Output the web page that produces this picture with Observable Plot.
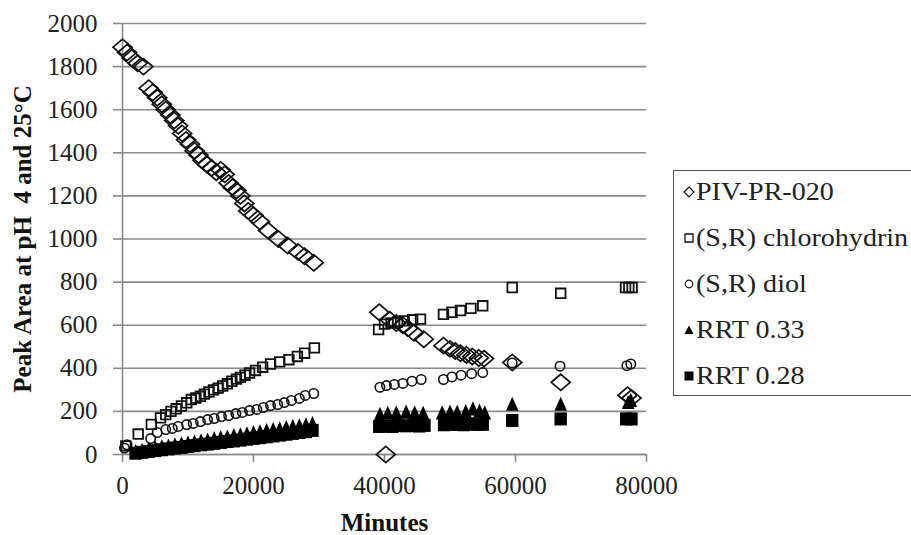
<!DOCTYPE html>
<html>
<head>
<meta charset="utf-8">
<script src="https://cdn.jsdelivr.net/npm/d3@7"></script>
<script src="https://cdn.jsdelivr.net/npm/@observablehq/plot@0.6"></script>
<style>
  html, body { margin: 0; padding: 0; background: #fff; overflow: hidden; }
  #wrap { position: relative; width: 911px; height: 535px; }
  #legend { position: absolute; left: 673px; top: 170px; width: 260px; height: 226px;
    border: 1.5px solid #555; box-sizing: border-box; background: #fff;
    font-family: "Liberation Serif", "DejaVu Serif", "Times New Roman", serif; font-size: 26px; color: #222; }
  .item { position: absolute; left: 0; height: 30px; display: flex; align-items: center; white-space: pre; }
  .item svg { margin-left: 9px; margin-right: 1px; }
  .item span { display: inline-block; transform: scaleX(1.08); transform-origin: left center; }
  svg text { font-family: "Liberation Serif", "DejaVu Serif", "Times New Roman", serif; }
</style>
</head>
<body>
<div id="wrap"></div>
<script>
// ---- data (minutes, peak area) ----
const seriesNames = ["PIV-PR-020", "(S,R) chlorohydrin", "(S,R) diol", "RRT 0.33", "RRT 0.28"];

const pivPR020 = [
  [0,1890],[700,1865],[1400,1840],[2300,1815],[3200,1800],
  [4000,1700],[4600,1680],[5300,1655],[6000,1625],[6600,1600],[7300,1575],[7900,1550],
  [8500,1525],[9100,1490],[9700,1460],[10300,1440],[11000,1410],[11600,1390],[12200,1365],
  [12900,1345],[13600,1330],[14300,1310],[15000,1320],[15600,1300],[16200,1260],[16800,1240],
  [17400,1225],[18000,1200],[18600,1165],[19200,1130],[20000,1110],[21000,1080],[22200,1040],
  [23800,1000],[25200,970],[26800,940],[27800,920],[29200,890],
  [39200,660],[40200,0],[40800,625],[41800,610],[42800,600],[43600,585],[44500,565],[46000,535],
  [49000,505],[50000,490],[50800,480],[51600,470],[52500,462],[53400,455],[54400,448],[55200,445],
  [59500,427],[66900,335],[77100,275],[77700,262]
];

const chlorohydrin = [
  [500,40],[2400,95],[4400,140],[5800,170],[6600,185],[7400,200],[8200,212],[9000,225],
  [9800,240],[10500,255],[11200,262],[11900,270],[12500,280],[13200,290],[13900,300],[14600,308],
  [15300,318],[16000,328],[16700,340],[17400,350],[18000,358],[18700,368],[19400,378],[20300,390],
  [21400,405],[22600,420],[24000,430],[25400,440],[26700,455],[27800,470],[29300,495],
  [39100,580],[40000,605],[41000,610],[42000,615],[43000,620],[44300,625],[45500,628],
  [49000,650],[50300,660],[51600,668],[53200,678],[55000,690],
  [59500,775],[66900,748],[76800,775],[77300,775],[77800,775]
];

const diol = [
  [300,30],[700,45],[4300,74],[5300,102],[6600,116],[7600,121],[8500,130],[9800,139],
  [10800,144],[11900,153],[13000,162],[14000,167],[15100,176],[16200,181],[17300,190],[18300,195],
  [19400,204],[20500,209],[21500,218],[22600,227],[23700,232],[24700,241],[25800,251],[27000,260],
  [27900,274],[29200,283],
  [39300,312],[40300,320],[41500,325],[42800,330],[44200,340],[45600,348],
  [49000,348],[50300,360],[51700,368],[53300,375],[55000,380],
  [59500,425],[66800,410],[77000,412],[77600,420]
];

const rrt033 = [
  [2000,12],[3000,18],[4000,24],[5000,28],[6000,34],[7000,38],[8000,43],[9000,48],[10000,52],
  [11000,57],[12000,62],[13000,66],[14000,72],[15000,77],[16000,80],[17000,86],[18000,90],
  [19000,95],[20000,100],[21000,104],[22000,110],[23000,114],[24000,118],[25000,124],[26000,128],
  [27000,132],[28000,136],[29000,142],
  [39300,185],[40500,190],[41800,192],[43300,195],[44600,192],[45900,190],
  [48800,192],[50000,196],[51100,195],[52400,198],[53500,210],[54500,200],[55300,192],
  [59500,232],[66900,232],[77200,240],[77600,250]
];

const rrt028 = [
  [2000,6],[3000,10],[4000,14],[5000,18],[6000,22],[7000,26],[8000,30],[9000,33],[10000,37],
  [11000,41],[12000,45],[13000,48],[14000,52],[15000,56],[16000,60],[17000,63],[18000,67],
  [19000,71],[20000,75],[21000,78],[22000,82],[23000,86],[24000,90],[25000,94],[26000,98],
  [27000,102],[28000,106],[29000,112],
  [39200,130],[40200,132],[41200,130],[42200,135],[43300,133],[44300,135],[45300,132],[46100,135],
  [49100,138],[50100,140],[51100,140],[52100,138],[53100,142],[54100,140],[55000,140],
  [59500,158],[66900,165],[76900,165],[77700,165]
];

const xTicks = [0, 20000, 40000, 60000, 80000];
const yTicks = [0, 200, 400, 600, 800, 1000, 1200, 1400, 1600, 1800, 2000];
const xLabel = "Minutes";
const yLabel = "Peak Area at pH  4 and 25°C";

// ---- custom marker shapes (size = pi*r^2 in Plot) ----
const k = (size) => Math.sqrt(size / Math.PI);
const symDiamond = { draw(c, s) { const r = k(s); c.moveTo(0, -0.85*r); c.lineTo(r, 0); c.lineTo(0, 0.85*r); c.lineTo(-r, 0); c.closePath(); } };
const symSquare = { draw(c, s) { const r = k(s); c.moveTo(-r, -r); c.lineTo(r, -r); c.lineTo(r, r); c.lineTo(-r, r); c.closePath(); } };
const symTriangle = { draw(c, s) { const r = k(s); c.moveTo(0, -1.25*r); c.lineTo(r, r); c.lineTo(-r, r); c.closePath(); } };
const symBlock = { draw(c, s) { const r = k(s); c.moveTo(-r, -1.05*r); c.lineTo(r, -1.05*r); c.lineTo(r, 1.05*r); c.lineTo(-r, 1.05*r); c.closePath(); } };

const toRows = (arr) => arr.map(([t, v]) => ({t, v}));
const serif = "'Liberation Serif', 'DejaVu Serif', 'Times New Roman', serif";

const chart = Plot.plot({
  width: 911,
  height: 535,
  marginLeft: 122,
  marginRight: 265,
  marginTop: 23,
  marginBottom: 81,
  style: { fontFamily: serif, fontSize: "25px", color: "#222", background: "#fff", overflow: "visible" },
  x: { domain: [0, 80000] },
  y: { domain: [0, 2000] },
  marks: [
    Plot.gridY(yTicks, { stroke: "#8a8a8a", strokeOpacity: 1, strokeWidth: 1.6 }),
    Plot.axisY(yTicks, { tickSize: 9, tickPadding: 16, stroke: "#8a8a8a", strokeWidth: 1.6, tickFormat: d3.format("d"), label: null, fontSize: 25, fill: "#222" }),
    Plot.ruleX([0], { stroke: "#8a8a8a", strokeWidth: 1.6 }),
    Plot.ruleY([0], { stroke: "#8a8a8a", strokeWidth: 1.6 }),
    Plot.axisX(xTicks, { tickSize: 8, tickPadding: 14, stroke: "#8a8a8a", strokeWidth: 1.6, tickFormat: d3.format("d"), label: null, fontSize: 25, fill: "#222" }),
    Plot.text([yLabel], { frameAnchor: "left", dx: -100, rotate: -90, textAnchor: "middle", fontWeight: "bold", fontSize: 25, fill: "#111", style: "white-space: pre" }),
    Plot.text([xLabel], { frameAnchor: "bottom", dy: 76, lineAnchor: "bottom", fontWeight: "bold", fontSize: 25, fill: "#111" }),
    Plot.dot(toRows(pivPR020), { x: "t", y: "v", symbol: symDiamond, r: 9.5, stroke: "#111", strokeWidth: 1.7, fill: "none" }),
    Plot.dot(toRows(chlorohydrin), { x: "t", y: "v", symbol: symSquare, r: 4.8, stroke: "#111", strokeWidth: 1.8, fill: "none" }),
    Plot.dot(toRows(diol), { x: "t", y: "v", symbol: "circle", r: 4.7, stroke: "#111", strokeWidth: 1.6, fill: "none" }),
    Plot.dot(toRows(rrt033), { x: "t", y: "v", symbol: symTriangle, r: 6.3, fill: "#000", stroke: "none" }),
    Plot.dot(toRows(rrt028), { x: "t", y: "v", symbol: symBlock, r: 6.2, fill: "#000", stroke: "none" })
  ]
});

const wrap = document.getElementById("wrap");
wrap.appendChild(chart);

// ---- legend ----
const legend = document.createElement("div");
legend.id = "legend";
const glyphs = [
  `<svg width="12" height="12" viewBox="-6 -6 12 12"><path d="M0,-5L5,0L0,5L-5,0Z" fill="none" stroke="#111" stroke-width="1.2"/></svg>`,
  `<svg width="12" height="12" viewBox="-6 -6 12 12"><path d="M-4,-4H4V4H-4Z" fill="none" stroke="#111" stroke-width="1.3"/></svg>`,
  `<svg width="12" height="12" viewBox="-6 -6 12 12"><circle r="3.8" fill="none" stroke="#111" stroke-width="1.2"/></svg>`,
  `<svg width="12" height="12" viewBox="-6 -6 12 12"><path d="M0,-4.5L4.5,4L-4.5,4Z" fill="#000"/></svg>`,
  `<svg width="12" height="12" viewBox="-6 -6 12 12"><path d="M-4.5,-4.5H4.5V4.5H-4.5Z" fill="#000"/></svg>`
];
seriesNames.forEach((name, i) => {
  const it = document.createElement("div");
  it.className = "item";
  it.style.top = (6 + i * 46) + "px";
  it.innerHTML = glyphs[i] + `<span>${name}</span>`;
  legend.appendChild(it);
});
wrap.appendChild(legend);
</script>
</body>
</html>
